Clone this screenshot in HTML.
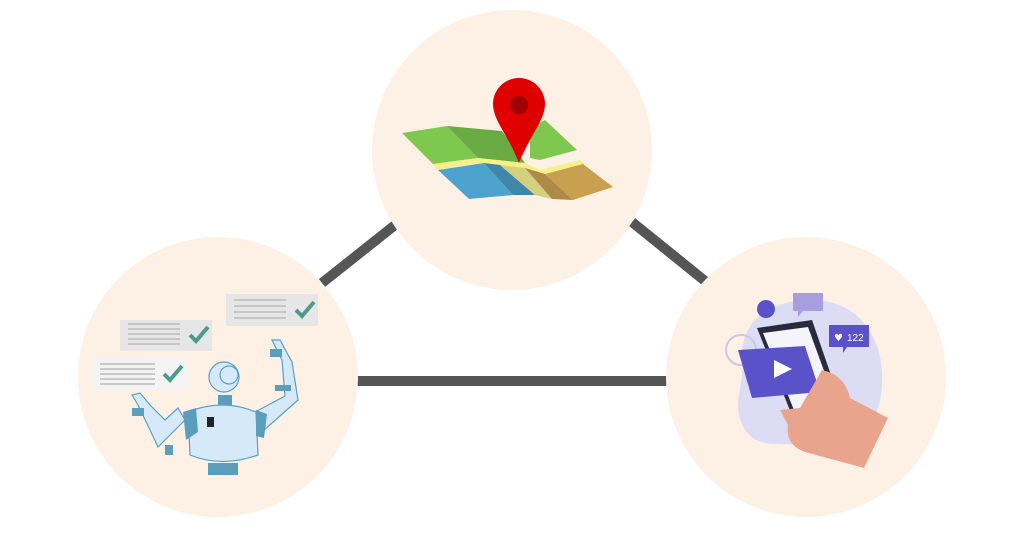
<!DOCTYPE html>
<html><head><meta charset="utf-8"><style>html,body{margin:0;padding:0;background:#fff;width:1024px;height:536px;overflow:hidden}</style></head>
<body>
<svg width="1024" height="536" viewBox="0 0 1024 536" xmlns="http://www.w3.org/2000/svg">
<g stroke="#555" stroke-width="10" stroke-linecap="butt">
<line x1="322" y1="283" x2="395" y2="225"/>
<line x1="632" y1="222" x2="705" y2="281"/>
<line x1="356" y1="381" x2="668" y2="381"/>
</g>
<circle cx="512" cy="150" r="140" fill="#fdf1e6"/>
<circle cx="218" cy="377" r="140" fill="#fdf1e6"/>
<circle cx="806" cy="377" r="140" fill="#fdf1e6"/>
<!-- map -->
<polygon points="402,133 447,126 478,158 433,164" fill="#7ec850"/>
<polygon points="447,126 502,131 525,163 478,158" fill="#6aab43"/>
<polygon points="530,128 545,120 577,150 540,160 530,158" fill="#7ec850"/>
<polygon points="433,164 478,158 525,163 540,170 580,160 585,164 545,174 520,168 478,163 437,170" fill="#f5f08a"/>
<polygon points="438,170 484,163 513,195 469,199" fill="#4ea3cd"/>
<polygon points="484,163 500,165 535,195 513,195" fill="#3f86ab"/>
<polygon points="500,165 525,168 552,199 535,195" fill="#d3d17d"/>
<polygon points="525,168 545,174 573,200 552,199" fill="#ad8a45"/>
<polygon points="545,174 583,164 613,187 573,200" fill="#c9a050"/>
<path d="M493,104 A26,26 0 1 1 545,104 C545,120 530,135 519,163 C508,135 493,120 493,104 Z" fill="#e00000"/>
<circle cx="519" cy="105" r="9" fill="#a00000"/>
<!-- robot scene -->
<rect x="120" y="320" width="92" height="31" fill="#e6e6e6"/>
<rect x="226" y="294" width="92" height="32" fill="#e6e6e6"/>
<rect x="93" y="359" width="94" height="31" fill="#f3f3f3"/>
<g stroke="#bbb" stroke-width="1.5">
<line x1="128" y1="324" x2="180" y2="324"/><line x1="128" y1="329" x2="180" y2="329"/><line x1="128" y1="334" x2="180" y2="334"/><line x1="128" y1="339" x2="180" y2="339"/><line x1="128" y1="344" x2="180" y2="344"/>
<line x1="234" y1="300" x2="286" y2="300"/><line x1="234" y1="306" x2="286" y2="306"/><line x1="234" y1="312" x2="286" y2="312"/><line x1="234" y1="318" x2="286" y2="318"/>
<line x1="100" y1="364" x2="155" y2="364"/><line x1="100" y1="369" x2="155" y2="369"/><line x1="100" y1="374" x2="155" y2="374"/><line x1="100" y1="379" x2="155" y2="379"/><line x1="100" y1="384" x2="155" y2="384"/>
</g>
<g stroke="#4f9a8c" stroke-width="4" fill="none">
<path d="M190,335 l6,6 l12,-14"/><path d="M296,310 l6,6 l12,-14"/><path d="M164,374 l6,6 l12,-14"/>
</g>
<g fill="#d6e9f8" stroke="#5a9fc4" stroke-width="1.2">
<path d="M185,420 L158,447 L150,430 L138,405 L132,395 L140,393 L150,405 L165,420 L178,408 Z"/>
<path d="M255,412 L285,396 L282,360 L272,340 L280,340 L292,362 L298,400 L262,432 Z"/>
<path d="M188,412 Q222,398 256,412 L258,455 Q222,468 190,455 Z"/>
<circle cx="224" cy="377" r="15"/>
</g>
<circle cx="229" cy="375" r="9" fill="none" stroke="#5a9fc4" stroke-width="1.2"/>
<g fill="#5b9dbd">
<rect x="218" y="395" width="14" height="10"/>
<rect x="208" y="463" width="30" height="12"/>
<path d="M183,412 L196,408 L198,432 L186,440 Z"/>
<path d="M256,410 L267,414 L264,438 L256,436 Z"/>
<rect x="165" y="445" width="8" height="10"/>
<rect x="132" y="408" width="12" height="8"/>
<rect x="270" y="349" width="12" height="8"/>
<rect x="275" y="385" width="16" height="6"/>
</g>
<rect x="207" y="417" width="7" height="10" fill="#222"/>
<!-- phone scene -->
<path d="M812,300 C860,300 885,340 882,385 C880,430 850,450 810,445 C780,442 760,450 745,430 C730,405 745,385 742,360 C740,320 770,300 812,300 Z" fill="#dcdcf5"/>
<circle cx="766" cy="309" r="9" fill="#5a52c8"/>
<path d="M793,293 h30 v18 h-20 l-5,6 v-6 h-5 Z" fill="#a79ee0"/>
<path d="M829,325 h40 v22 h-22 l-4,6 v-6 h-14 Z" fill="#5a52c8"/>
<text x="847" y="341" font-family="Liberation Sans, sans-serif" font-size="10" fill="#fff">122</text>
<text x="834" y="341" font-family="DejaVu Sans, sans-serif" font-size="10" fill="#fff">♥</text>
<circle cx="741" cy="350" r="15" fill="none" stroke="#c8c8e8" stroke-width="2"/>
<polygon points="757,328 812,320 852,436 805,448" fill="#2a2a3e"/>
<polygon points="763,333 808,327 842,420 802,430" fill="#f4f4fa"/>
<polygon points="738,350 805,346 820,392 752,398" fill="#5a52c8"/>
<polygon points="774,360 774,378 792,369" fill="#fff"/>
<path d="M822,370 Q845,375 850,398 L888,418 L864,468 L805,452 Q785,445 788,425 L780,410 L800,408 Z" fill="#e8a48c"/>
</svg>
</body></html>
